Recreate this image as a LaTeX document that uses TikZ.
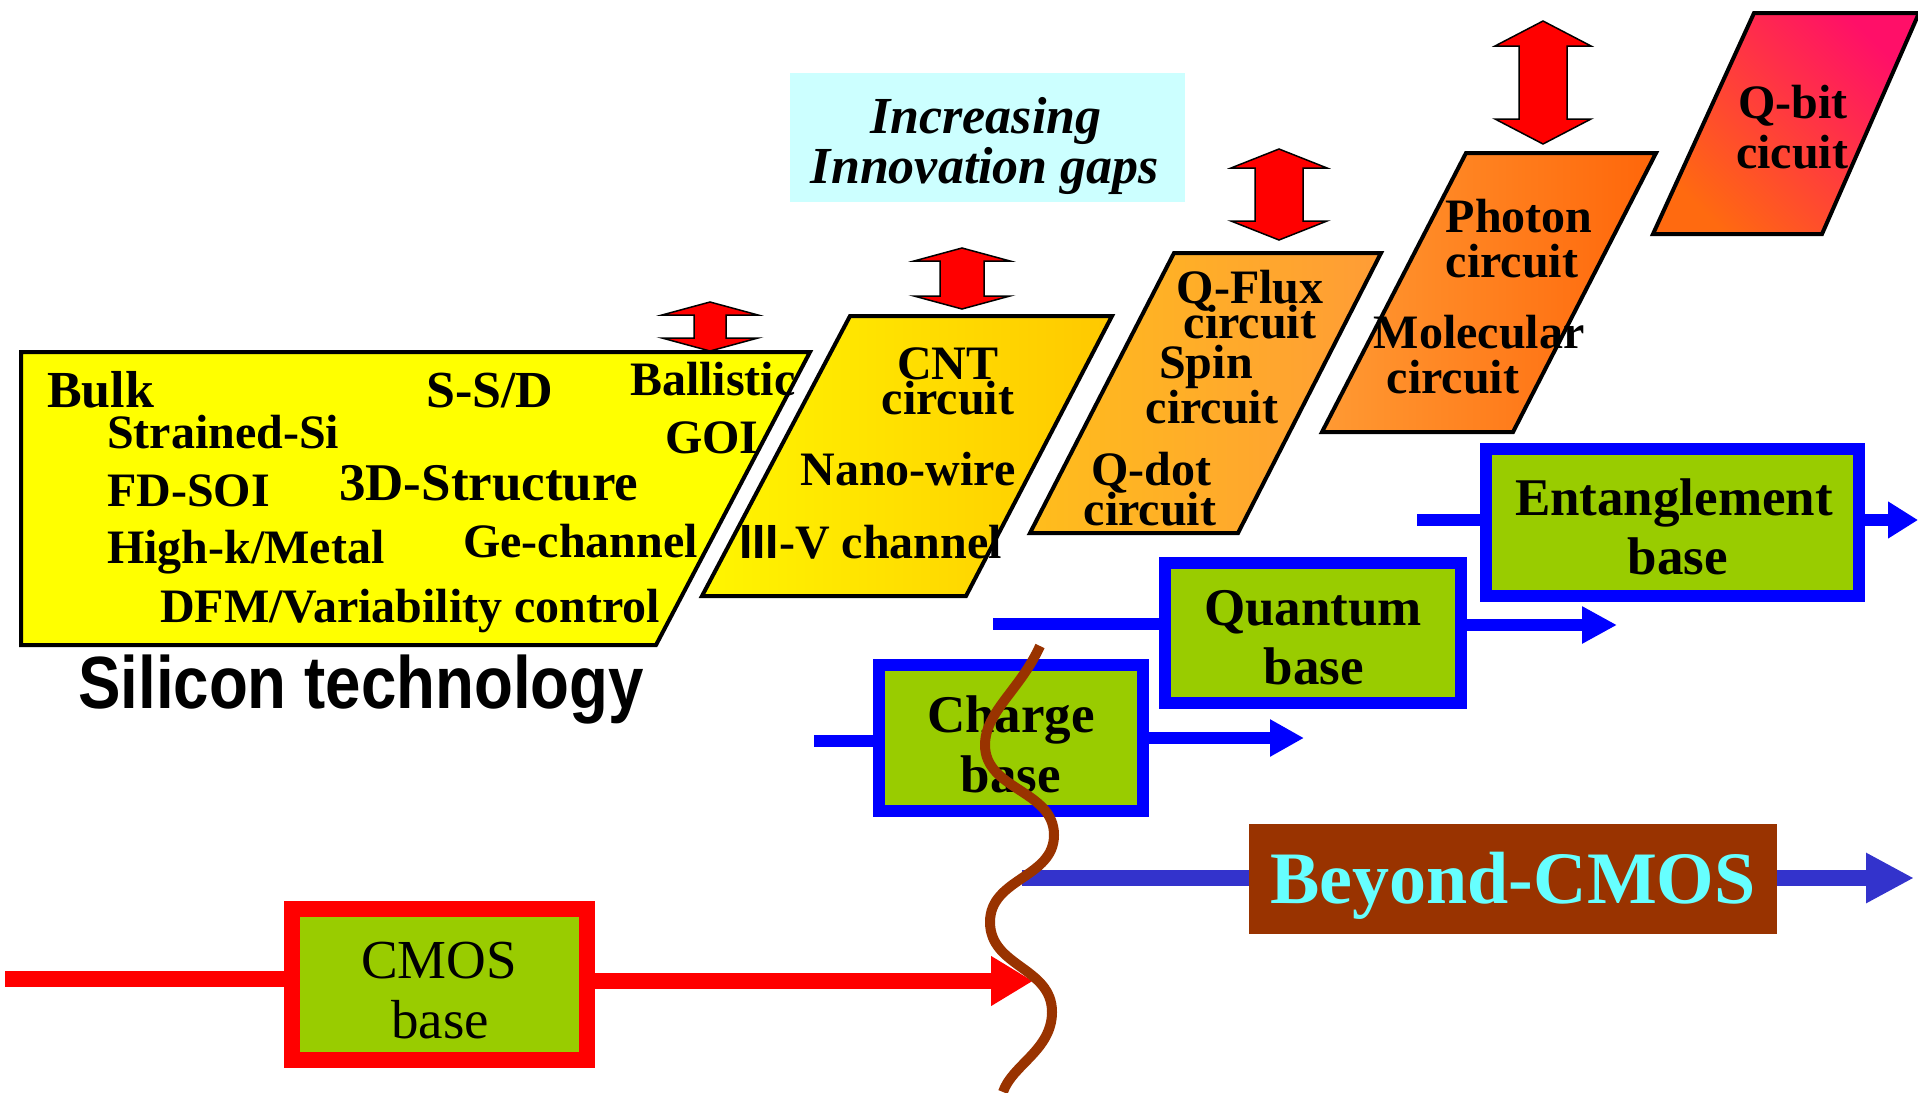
\documentclass[tikz,border=0pt]{standalone}
\usepackage{fontspec}
\setmainfont{Liberation Serif}
\setsansfont{Liberation Sans}
\newfontfamily\narrowsans[FakeStretch=0.86]{Liberation Sans}
\usetikzlibrary{arrows.meta}

\newcommand\fsz[1]{\fontsize{#1}{#1}\selectfont}

\definecolor{siyellow}{HTML}{FFFF00}
\definecolor{cntleft}{HTML}{FFF600}
\definecolor{cntright}{HTML}{FFC800}
\definecolor{qfleft}{HTML}{FFBD1C}
\definecolor{qfright}{HTML}{FF9C36}
\definecolor{phleft}{HTML}{FF9A33}
\definecolor{phright}{HTML}{FF660A}
\definecolor{qbleft}{HTML}{FF6A10}
\definecolor{qbright}{HTML}{FF0F68}
\definecolor{gapcyan}{HTML}{CCFFFF}
\definecolor{basegreen}{HTML}{99CC00}
\definecolor{flowblue}{HTML}{0000FF}
\definecolor{beyondblue}{HTML}{3333CC}
\definecolor{cmosbrown}{HTML}{993300}
\definecolor{beyondcyan}{HTML}{66FFFF}

\tikzset{
	lbl/.style={anchor=base, inner sep=0pt, font=\bfseries\fsz{48}},
	lblw/.style={lbl, anchor=base west},
	stepshape/.style={draw, line width=4pt},
	basebox/.style={draw=flowblue, fill=basegreen, line width=12pt, inner sep=0pt},
	baselbl/.style={lbl, font=\bfseries\fsz{53}},
	blueflow/.style={draw=flowblue, line width=12pt},
	redflow/.style={draw=red, line width=16pt},
	beyondflow/.style={draw=beyondblue, line width=16pt},
	wave/.style={draw=cmosbrown, line width=10pt}
}

\begin{document}
\begin{tikzpicture}[x=1pt, y=-1pt]
	\useasboundingbox (0,0) rectangle (1918,1092);

	% silicon technology
	\filldraw[stepshape, fill=siyellow] (21,352) -- (810,352) -- (656,645) -- (21,645) -- cycle;
	\node[lblw, font=\bfseries\fsz{52}] (bulk) at (47,407) {Bulk};
	\node[lblw, font=\bfseries\fsz{52}] (ssd) at (426,407) {S-S/D};
	\node[lblw] (ballistic) at (630,395) {Ballistic};
	\node[lblw] (strained) at (107,448) {Strained-Si};
	\node[lblw] (goi) at (665,453) {GOI};
	\node[lblw] (fdsoi) at (107,506) {FD-SOI};
	\node[lblw, font=\bfseries\fsz{53}] (struct3d) at (339,500) {3D-Structure};
	\node[lblw] (gech) at (463,557) {Ge-channel};
	\node[lblw] (highk) at (107,563) {High-k/Metal};
	\node[lblw] (dfm) at (160,622) {DFM/Variability control};
	\node[lblw, font=\narrowsans\bfseries\fsz{74}] (sitech) at (78,708) {Silicon technology};

	% new devices
	\shade[stepshape, left color=cntleft, right color=cntright] (850,316) -- (1112,316) -- (966,596) -- (702,596) -- cycle;
	\node[lbl] (cnt0) at (948,379) {CNT};
	\node[lbl] (cnt1) at (948,414) {circuit};
	\node[lbl] (nano) at (908,485) {Nano-wire};
	\node[lblw] (iiiv) at (739,558) {{\sffamily III}-V channel};

	\shade[stepshape, left color=qfleft, right color=qfright] (1174,253) -- (1381,253) -- (1238,533) -- (1030,533) -- cycle;
	\node[lbl] (qflux0) at (1250,303) {Q-Flux};
	\node[lbl] (qflux1) at (1250,338) {circuit};
	\node[lbl] (spin0) at (1206,378) {Spin};
	\node[lbl] (spin1) at (1212,423) {circuit};
	\node[lbl] (qdot0) at (1151,485) {Q-dot};
	\node[lbl] (qdot1) at (1150,525) {circuit};

	\shade[stepshape, left color=phleft, right color=phright] (1466,153) -- (1656,153) -- (1513,432) -- (1322,432) -- cycle;
	\node[lbl] (photon0) at (1519,232) {Photon};
	\node[lbl] (photon1) at (1512,277) {circuit};
	\node[lbl] (mol0) at (1479,348) {Molecular};
	\node[lbl] (mol1) at (1453,393) {circuit};

	\shade[stepshape, bottom color=qbleft, top color=qbright, shading angle=-45] (1754,13) -- (1919,13) -- (1822,234) -- (1653,234) -- cycle;
	\node[lbl] (qbit0) at (1793,118) {Q-bit};
	\node[lbl] (qbit1) at (1792,168) {cicuit};

	% gaps
	\foreach \cx/\ya/\yb/\h/\s in {710/302/351/13/16, 962/248/309/13/22, 1279/149/240/19/24, 1543/21/144/25/24} {
		\filldraw[fill=red, draw=black, line width=1.5pt] (\cx,\ya) -- (\cx+48,\ya+\h) -- (\cx+\s,\ya+\h) -- (\cx+\s,\yb-\h) -- (\cx+48,\yb-\h) -- (\cx,\yb) -- (\cx-48,\yb-\h) -- (\cx-\s,\yb-\h) -- (\cx-\s,\ya+\h) -- (\cx-48,\ya+\h) -- cycle;
	}

	\node[fill=gapcyan, minimum width=395, minimum height=129, inner sep=0pt] (gaps) at (987.5,137.5) {};
	\node[lbl, font=\bfseries\itshape\fsz{52}] (gaps0) at (986,133) {Increasing};
	\node[lbl, font=\bfseries\itshape\fsz{52}] (gaps1) at (985,183) {Innovation gaps};

	% bases
	\node[basebox, minimum width=373, minimum height=147] (ent) at (1672.5,522.5) {};
	\node[baselbl] (ent0) at (1674,515) {Entanglement};
	\node[baselbl] (ent1) at (1678,574) {base};
	\coordinate (entin) at (1417,520);
	\coordinate (entout) at (1918,520);
	\draw[blueflow] (entin) -- (entin -| ent.west);
	\draw[blueflow, -{Triangle[length=30pt, width=35pt]}] (ent.east |- entout) -- (entout);

	\node[basebox, minimum width=296, minimum height=140] (quantum) at (1313,633) {};
	\node[baselbl] (quantum0) at (1313,625) {Quantum};
	\node[baselbl] (quantum1) at (1314,684) {base};
	\coordinate (quantumin) at (993,624);
	\coordinate (quantumout) at (1617,625);
	\draw[blueflow] (quantumin) -- (quantumin -| quantum.west);
	\draw[blueflow, -{Triangle[length=35pt, width=35pt]}] (quantum.east |- quantumout) -- (quantumout);

	\node[basebox, minimum width=264, minimum height=146] (charge) at (1011,738) {};
	\node[baselbl] (charge0) at (1011,732) {Charge};
	\node[baselbl] (charge1) at (1011,792) {base};
	\coordinate (chargein) at (814,741);
	\coordinate (chargeout) at (1304,738);
	\draw[blueflow] (chargein) -- (chargein -| charge.west);
	\draw[blueflow, -{Triangle[length=34pt, width=35pt]}] (charge.east |- chargeout) -- (chargeout);

	\node[basebox, draw=red, line width=16pt, minimum width=295, minimum height=151] (cmos) at (439.5,984.5) {};
	\node[lbl, font=\fsz{55}] (cmos0) at (439,978) {CMOS};
	\node[lbl, font=\fsz{55}] (cmos1) at (440,1038) {base};
	\coordinate (cmosin) at (5,979);
	\coordinate (cmosout) at (1033,981);
	\draw[redflow] (cmosin) -- (cmosin -| cmos.west);
	\draw[redflow, -{Triangle[length=42pt, width=47pt]}] (cmos.east |- cmosout) -- (cmosout);

	% beyond
	\node[fill=cmosbrown, minimum width=528, minimum height=110, inner sep=0pt, text=beyondcyan, font=\bfseries\fsz{74}, text height=49pt, text depth=0pt] (beyond) at (1513,879) {Beyond-CMOS};
	\coordinate (beyondin) at (1022,878);
	\coordinate (beyondout) at (1914,878);
	\draw[beyondflow] (beyondin) -- (beyondin -| beyond.west);
	\draw[beyondflow, -{Triangle[length=48pt, width=47pt]}] (beyond.east |- beyondout) -- (beyondout);

	\draw[wave] (1040,646) .. controls (1020,690) and (985,712) .. (985,745) .. controls (985,790) and (1054,790) .. (1054,835) .. controls (1054,878) and (990,878) .. (990,922) .. controls (990,967) and (1052,967) .. (1052,1012) .. controls (1052,1050) and (1012,1065) .. (1003,1092);

\end{tikzpicture}
\end{document}
